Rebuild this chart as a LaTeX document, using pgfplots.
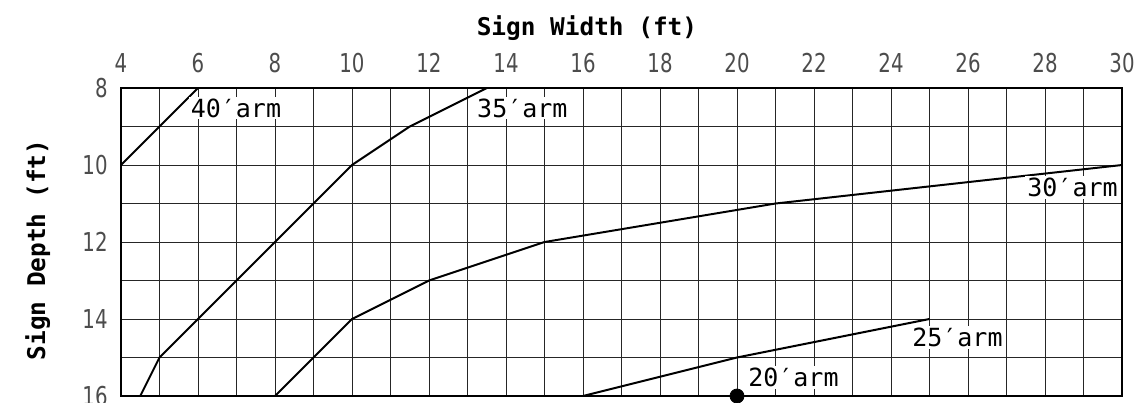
\documentclass[border=0pt]{standalone}
\usepackage{fontspec}
\usepackage{pgfplots}
\pgfplotsset{compat=1.18}
\setmainfont{DejaVu Sans Mono}
\newfontfamily\tickfont{DejaVu Sans}[FakeStretch=0.76]
\newfontfamily\labfont{DejaVu Sans Mono}
\begin{document}
\begin{tikzpicture}
\path[use as bounding box, clip] (-60.5pt,-3pt) rectangle (511pt,198pt);
\begin{axis}[
  at={(0,0)}, anchor=south west,
  scale only axis, width=500.5pt, height=154pt,
  xmin=4, xmax=30, ymin=8, ymax=16, y dir=reverse,
  xtick={4,6,...,30}, ytick={8,10,...,16},
  minor x tick num=1, minor y tick num=1,
  grid=both,
  major grid style={black!85, line width=0.5pt},
  minor grid style={black!85, line width=0.5pt},
  major tick length=0pt, minor tick length=0pt,
  axis line style={line width=1pt},
  xticklabel pos=right,
  /pgf/number format/assume math mode=true,
  tick label style={font=\tickfont\fontsize{13}{15}\selectfont, black!70},
  xticklabel style={anchor=base, yshift=8pt, inner sep=0pt},
  yticklabel style={anchor=east, xshift=-6.5pt, inner sep=0pt},
  xlabel={Sign Width (ft)}, ylabel={Sign Depth (ft)},
  label style={font=\labfont\bfseries\fontsize{12.2}{14}\selectfont},
  xlabel style={at={(axis description cs:0.4655,1.172)}, anchor=base},
  ylabel style={at={(axis description cs:-0.0759,0.474)}, anchor=base},
  clip=false,
]
% 40' arm
\addplot[black, line width=1pt, mark=none] coordinates {(4,10) (5,9) (6,8)};
% 35' arm
\addplot[black, line width=1pt, mark=none] coordinates {(4.5,16) (5,15) (8,12) (10,10) (11.5,9) (13.5,8)};
% 30' arm
\addplot[black, line width=1pt, mark=none] coordinates {(8,16) (10,14) (12,13) (15,12) (21,11) (30,10)};
% 25' arm
\addplot[black, line width=1pt, mark=none] coordinates {(16,16) (20,15) (25,14)};
% selected point
\addplot[only marks, mark=*, mark size=3.5pt, black] coordinates {(20,16)};
\tikzset{armlab/.style={fill=white, inner sep=1pt, font=\labfont\fontsize{12.5}{14}\selectfont}}
\node[armlab, anchor=west] at (axis cs:5.75,8.52) {40′arm};
\node[armlab, anchor=west] at (axis cs:13.19,8.52) {35′arm};
\node[armlab, anchor=east] at (axis cs:29.95,10.58) {30′arm};
\node[armlab, anchor=west] at (axis cs:24.49,14.49) {25′arm};
\node[armlab, anchor=west] at (axis cs:20.23,15.52) {20′arm};
\end{axis}
\end{tikzpicture}
\end{document}
